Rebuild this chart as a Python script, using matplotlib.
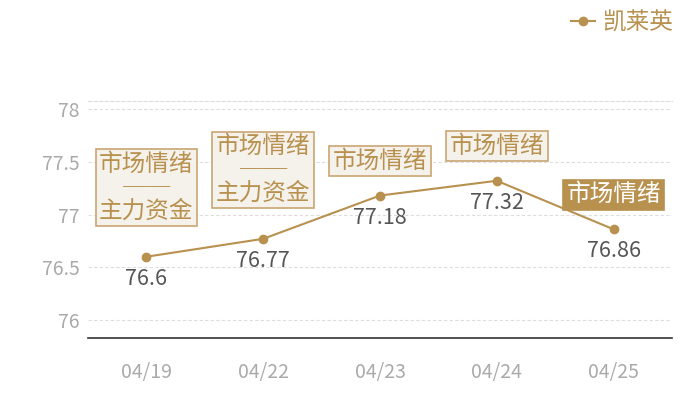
import matplotlib
matplotlib.use("Agg")
import matplotlib.pyplot as plt

plt.rcParams['font.family'] = ['Noto Sans CJK SC', 'DejaVu Sans']

dates = ["04/19", "04/22", "04/23", "04/24", "04/25"]
values = [76.6, 76.77, 77.18, 77.32, 76.86]
value_labels = ["76.6", "76.77", "77.18", "77.32", "76.86"]
notes = ["市场情绪\n\u2500\u2500\n主力资金", "市场情绪\n\u2500\u2500\n主力资金", "市场情绪", "市场情绪", "市场情绪"]
note_filled = [False, False, False, False, True]
series_name = "凯莱英"
yticks = [76, 76.5, 77, 77.5, 78]
ytick_labels = ["76", "76.5", "77", "77.5", "78"]

GOLD = "#b8914f"
EDGE = "#c9a672"
FILL = "#f5f1eb"

fig = plt.figure(figsize=(7, 4), dpi=100)
ax = fig.add_axes([88/700, 62/400, 584/700, 237/400])

x = list(range(len(dates)))
line, = ax.plot(x, values, color=GOLD, lw=1.5, marker='o', markersize=6, label=series_name)

ax.set_xlim(-0.5, len(dates) - 0.5)
ax.set_ylim(75.83, 78.076)
ax.set_xticks(x)
ax.set_xticklabels(dates)
ax.set_yticks(yticks)
ax.set_yticklabels(ytick_labels)
ax.tick_params(axis='both', length=0, colors='#aaaaaa', labelsize=14)
ax.tick_params(axis='x', pad=17)
ax.tick_params(axis='y', pad=6)
ax.grid(axis='y', color='#dddddd', ls=(0, (3, 2)), lw=0.8)
for s in ['left', 'right']:
    ax.spines[s].set_visible(False)
ax.spines['top'].set_color('#dddddd')
ax.spines['top'].set_linestyle((0, (3, 2)))
ax.spines['top'].set_linewidth(0.8)
ax.spines['bottom'].set_color('#333333')
ax.spines['bottom'].set_linewidth(1.2)

for xi, v, lab in zip(x, values, value_labels):
    ax.annotate(lab, (xi, v), xytext=(0, -11), textcoords='offset pixels',
                ha='center', va='top', fontsize=15.5, color='#555555')

for xi, v, note, filled in zip(x, values, notes, note_filled):
    two = '\n' in note
    off = 30 if two else 19
    ax.annotate(note, (xi, v), xytext=(0, off + 4), textcoords='offset pixels',
                ha='center', va='bottom', fontsize=17, linespacing=1.02,
                multialignment='center',
                color='white' if filled else GOLD,
                bbox=dict(boxstyle='square,pad=0.15',
                          fc=GOLD if filled else FILL,
                          ec=GOLD if filled else EDGE, lw=1.2))

leg = fig.legend(handles=[line], loc='upper right', bbox_to_anchor=(694/700, 1.025),
                 frameon=False, fontsize=17, handlelength=1.0, handletextpad=0.3,
                 labelcolor=GOLD)

fig.savefig("out.png", dpi=100)
